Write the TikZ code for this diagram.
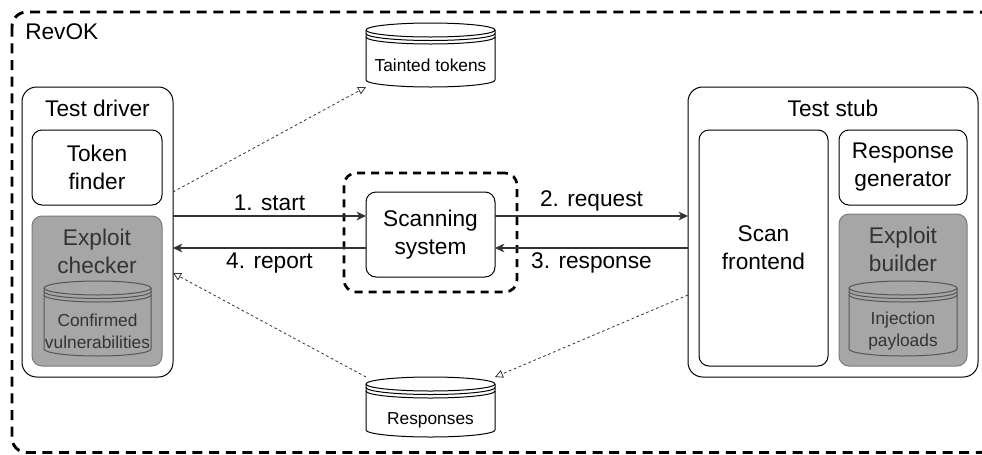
\documentclass[tikz,border=0pt]{standalone}
\usepackage{fontspec}
\setmainfont{Liberation Sans}
\usetikzlibrary{arrows.meta}

\definecolor{shade}{HTML}{A6A6A6}
\definecolor{shadeline}{HTML}{7A7A7A}
\definecolor{shadetext}{HTML}{333333}
\definecolor{wire}{HTML}{333333}

\tikzset{
  sz/.style 2 args={minimum width=(#1)*0.75pt, minimum height=(#2)*0.75pt, inner sep=0pt, outer sep=0pt},
  big/.style={font=\fontsize{17}{21}\selectfont, align=center},
  small/.style={font=\fontsize{13}{16.5}\selectfont, align=center},
  box/.style={draw, line width=0.75pt, rounded corners=7.5pt, fill=white},
  outerbox/.style={draw, line width=0.75pt, rounded corners=11pt, fill=white},
  shadebox/.style={draw=shadeline, line width=0.75pt, rounded corners=7.5pt, fill=shade},
  store/.style={draw, line width=0.75pt, fill=white},
  shadestore/.style={draw=shadeline!70!black, line width=0.75pt, fill=shade},
  flow/.style={draw=wire, line width=0.9pt, -{Stealth[length=7pt,width=6.5pt,inset=2pt]}},
  note/.style={draw=wire, line width=0.6pt, dash pattern=on 2pt off 2pt, -{Triangle[open,length=6pt,width=6pt]}},
}

% name, left, top, right, bottom, style
\newcommand{\datastore}[6]{%
  \pgfmathsetmacro{\dsrx}{(#4-#2)/2}
  \pgfmathsetmacro{\dscx}{(#2+#4)/2}
  \pgfmathsetmacro{\dscy}{(#3+#5)/2}
  \draw[#6] (#2,#3+7) -- (#2,#5-7) arc[start angle=180,end angle=0,x radius=\dsrx,y radius=7]
    -- (#4,#3+7) arc[start angle=0,end angle=-180,x radius=\dsrx,y radius=7] -- cycle;
  \foreach \dsd in {0,3.5,7}
    \draw[#6,fill=none] (#2,#3+7+\dsd) arc[start angle=180,end angle=0,x radius=\dsrx,y radius=7];
  \node[sz={#4-#2}{#5-#3}] (#1) at (\dscx,\dscy) {};
}

\begin{document}
\begin{tikzpicture}[x=0.75pt,y=-0.75pt]
\useasboundingbox (0,0) rectangle (982,454);
\clip (0,0) rectangle (982,454);

\draw[line width=2.2pt, dash pattern=on 7.5pt off 5pt, rounded corners=11pt] (12,12) rectangle (994,452.5);
\node[big, anchor=west, inner sep=0pt] (revok) at (25,32) {RevOK};

\node[outerbox, sz={151}{290}] (drv) at (97.5,232) {};
\node[big] (drvlabel) at (97.5,108) {Test driver};
\node[box, sz={130}{75}, big] (finder) at (97,167.5) {Token\\finder};
\node[shadebox, sz={130}{150}] (checker) at (97,291) {};
\node[big, text=shadetext] (checkerlabel) at (97,251) {Exploit\\checker};
\datastore{confirmed}{44}{281}{151}{356}{shadestore}
\node[small, text=shadetext] (confirmedlabel) at (97.5,331) {Confirmed\\vulnerabilities};

\datastore{taint}{366}{23}{495}{87}{store}
\node[small] (taintlabel) at (430.5,65) {Tainted tokens};
\datastore{resp}{366}{377}{495}{437}{store}
\node[small] (resplabel) at (430.5,420) {Responses};

\node[draw, line width=2pt, dash pattern=on 6pt off 4.5pt, rounded corners=9pt, sz={173}{119}] (scanfence) at (430.5,232.5) {};
\node[box, sz={129}{85}, big] (scan) at (430.5,234.5) {Scanning\\system};

\node[outerbox, sz={290}{290}] (stub) at (833,232) {};
\node[big] (stublabel) at (833,108) {Test stub};
\node[box, sz={129}{236}, big] (front) at (763.5,248) {Scan\\frontend};
\node[box, sz={128}{75}, big] (gen) at (903,167.5) {Response\\generator};
\node[shadebox, sz={128}{152}] (builder) at (903,290) {};
\node[big, text=shadetext] (builderlabel) at (903,249) {Exploit\\builder};
\datastore{payload}{849}{281}{957}{356}{shadestore}
\node[small, text=shadetext] (payloadlabel) at (903,331) {Injection\\payloads};

\coordinate (rowgo) at (0,216);
\coordinate (rowback) at (0,248);
\coordinate (rowtaint) at (0,192);
\coordinate (rowreport) at (0,273);
\coordinate (rowresp) at (0,295);

\draw[flow] (drv.east |- rowgo) -- node[big, above] {1. start} (scan.west |- rowgo);
\draw[flow] (scan.east |- rowgo) -- node[big, above] {2. request} (stub.west |- rowgo);
\draw[flow] (stub.west |- rowback) -- node[big, below] {3. response} (scan.east |- rowback);
\draw[flow] (scan.west |- rowback) -- node[big, below] {4. report} (drv.east |- rowback);

\draw[note] (drv.east |- rowtaint) -- (taint.south west);
\draw[note] (resp.north west) -- (drv.east |- rowreport);
\draw[note] (stub.west |- rowresp) -- (resp.north east);
\end{tikzpicture}
\end{document}
